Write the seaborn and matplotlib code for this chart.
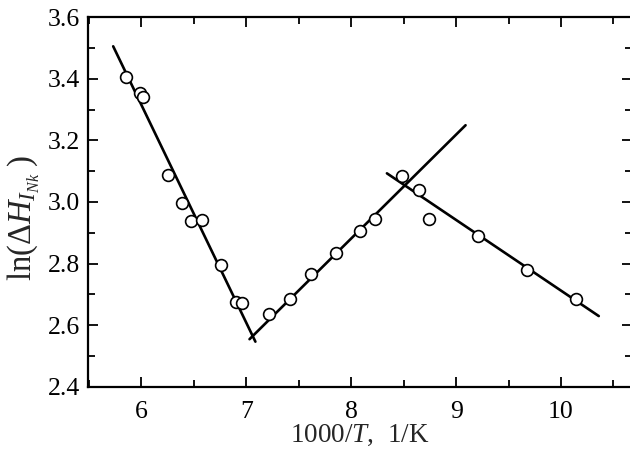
import matplotlib
matplotlib.use("Agg")
import matplotlib.pyplot as plt
from matplotlib.ticker import MultipleLocator
import seaborn as sns
import pandas as pd

# measured points: 1000/T vs ln(dH)
inv_t = [5.85, 5.99, 6.01, 6.25, 6.39, 6.47, 6.58, 6.76, 6.90, 6.96,
         7.22, 7.42, 7.62, 7.85, 8.08, 8.23, 8.48, 8.65, 8.74,
         9.21, 9.68, 10.14]
ln_dh = [3.406, 3.355, 3.339, 3.089, 2.997, 2.938, 2.941, 2.797, 2.675, 2.672,
         2.637, 2.686, 2.767, 2.835, 2.905, 2.946, 3.083, 3.038, 2.945,
         2.889, 2.780, 2.685]

# fitted straight segments (end points)
fit1_x = [5.73, 7.086]
fit1_y = [3.505, 2.547]
fit2_x = [7.03, 9.09]
fit2_y = [2.555, 3.249]
fit3_x = [8.34, 10.36]
fit3_y = [3.093, 2.63]

sns.set_theme(style="ticks")
plt.rcParams['font.family'] = ['Liberation Serif', 'DejaVu Serif']
plt.rcParams['mathtext.fontset'] = 'custom'
plt.rcParams['mathtext.rm'] = 'Liberation Serif'
plt.rcParams['mathtext.it'] = 'Liberation Serif:italic'

pts = pd.DataFrame({'x': inv_t, 'y': ln_dh})

fig = plt.figure(figsize=(6.3, 4.55), dpi=100)
ax = fig.add_axes([0.1397, 0.1495, 0.864, 0.8131])

for fx, fy in [(fit1_x, fit1_y), (fit2_x, fit2_y), (fit3_x, fit3_y)]:
    sns.lineplot(x=fx, y=fy, ax=ax, color='black', linewidth=1.9, zorder=2)

sns.scatterplot(data=pts, x='x', y='y', ax=ax, marker='o', s=72,
                facecolor='white', edgecolor='black', linewidth=1.2, zorder=3)

ax.set_xlim(5.49, 10.68)
ax.set_ylim(2.4, 3.6)
ax.xaxis.set_major_locator(MultipleLocator(1))
ax.xaxis.set_minor_locator(MultipleLocator(0.5))
ax.yaxis.set_major_locator(MultipleLocator(0.2))
ax.yaxis.set_minor_locator(MultipleLocator(0.1))
ax.yaxis.set_major_formatter(matplotlib.ticker.FormatStrFormatter('%.1f'))

ax.tick_params(which='both', direction='in', top=True, right=True,
               labelsize=18.5, width=1.3, colors='black')
ax.tick_params(which='major', length=7, pad=6)
ax.tick_params(axis='x', which='major', pad=10)
ax.tick_params(which='minor', length=5)
for s in ax.spines.values():
    s.set_linewidth(1.6)
    s.set_color('black')

ax.set_xlabel(r'1000/$T$,  1/K', fontsize=19.5, labelpad=0)
ax.set_ylabel(r'$\mathrm{ln}(\Delta H_{I_{Nk}}\;)$', fontsize=23.5)
ax.yaxis.set_label_coords(-0.084, 0.455)

fig.savefig('out.png', dpi=100)
